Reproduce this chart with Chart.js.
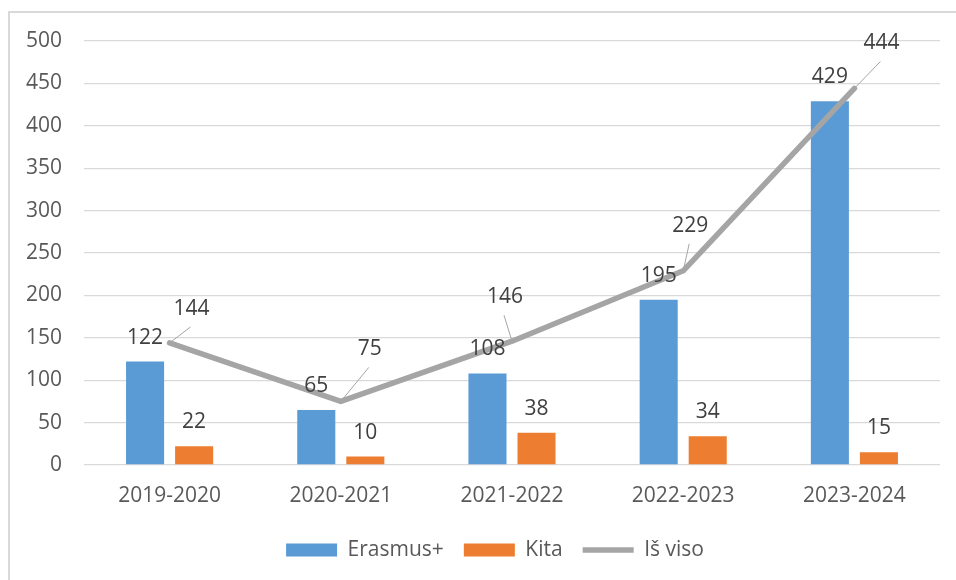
<!DOCTYPE html>
<html>
<head>
<meta charset="utf-8">
<script src="https://cdn.jsdelivr.net/npm/chart.js@4.4.1/dist/chart.umd.min.js"></script>
<style>
  html, body { margin: 0; padding: 0; background: #fff; }
  #wrap { position: relative; width: 956px; height: 580px; overflow: hidden; }
  #frame { position: absolute; left: 8px; top: 11px; width: 1000px; height: 700px;
           border-left: 2px solid #d9d9d9; border-top: 2px solid #d9d9d9; }
  canvas { position: absolute; left: 0; top: 0; }
</style>
</head>
<body>
<div id="wrap">
  <div id="frame"></div>
  <canvas id="chart" width="956" height="580"></canvas>
</div>
<script>
const years = ['2019-2020', '2020-2021', '2021-2022', '2022-2023', '2023-2024'];
const erasmus = [122, 65, 108, 195, 429];
const kita = [22, 10, 38, 34, 15];
const total = [144, 75, 146, 229, 444];

// where the total labels sit relative to their point (px), with a leader line
const totalLabelShift = [[22, -34], [29, -52], [-7, -44], [7, -45], [27, -45]];

const FONT = '"Open Sans", "Noto Sans", sans-serif';

const valueLabels = {
  id: 'valueLabels',
  afterLayout(chart) {
    // the legend in the original sits a bit right of centre
    chart.legend.left += 25;
    chart.legend.right += 25;
  },
  afterDatasetsDraw(chart) {
    const ctx = chart.ctx;
    ctx.save();
    ctx.font = '21px ' + FONT;
    ctx.fillStyle = '#404040';
    ctx.textAlign = 'center';
    ctx.textBaseline = 'middle';
    chart.data.datasets.forEach((ds, i) => {
      const meta = chart.getDatasetMeta(i);
      meta.data.forEach((el, j) => {
        const v = ds.data[j];
        if (ds.type === 'line') {
          const lx = el.x + totalLabelShift[j][0];
          const ly = el.y + totalLabelShift[j][1];
          ctx.strokeStyle = '#a5a5a5';
          ctx.lineWidth = 1;
          ctx.beginPath();
          ctx.moveTo(el.x, el.y);
          ctx.lineTo(lx - 1, ly + 18);
          ctx.stroke();
          ctx.fillText(v, lx, ly);
        } else {
          ctx.fillText(v, el.x, el.y - 24);
        }
      });
    });
    ctx.restore();
  }
};

new Chart(document.getElementById('chart'), {
  type: 'bar',
  data: {
    labels: years,
    datasets: [
      {
        label: 'Erasmus+',
        data: erasmus,
        backgroundColor: '#5b9bd5',
        categoryPercentage: 0.573,
        barPercentage: 0.776,
        order: 1
      },
      {
        label: 'Kita',
        data: kita,
        backgroundColor: '#ed7d31',
        categoryPercentage: 0.573,
        barPercentage: 0.776,
        order: 1
      },
      {
        type: 'line',
        label: 'Iš viso',
        data: total,
        borderColor: '#a5a5a5',
        backgroundColor: '#a5a5a5',
        borderWidth: 5.5,
        borderCapStyle: 'round',
        borderJoinStyle: 'round',
        pointRadius: 0,
        tension: 0,
        order: 0
      }
    ]
  },
  options: {
    responsive: false,
    animation: false,
    devicePixelRatio: 1,
    layout: { padding: { top: 41, right: 16, bottom: 9.5, left: 0 } },
    plugins: {
      tooltip: { enabled: false },
      legend: {
        position: 'bottom',
        labels: {
          color: '#595959',
          font: { family: FONT, size: 21 },
          usePointStyle: true,
          pointStyleWidth: 51,
          boxHeight: 13,
          padding: 20,
          sort: (a, b) => a.datasetIndex - b.datasetIndex,
          generateLabels(chart) {
            const items = Chart.defaults.plugins.legend.labels.generateLabels(chart);
            items.forEach(it => {
              it.pointStyle = chart.data.datasets[it.datasetIndex].type === 'line' ? 'line' : 'rect';
            });
            return items;
          }
        }
      }
    },
    scales: {
      x: {
        grid: { display: false, drawTicks: false },
        border: { display: false },
        ticks: { color: '#595959', font: { family: FONT, size: 21 }, padding: 18, maxRotation: 0 },
        afterFit(s) { s.height = 54.5; }
      },
      y: {
        min: 0,
        max: 500,
        ticks: { stepSize: 50, color: '#595959', font: { family: FONT, size: 21 }, padding: 22 },
        grid: { color: '#d9d9d9', lineWidth: 1.3, drawTicks: false },
        border: { display: false },
        afterFit(s) { s.width = 84; }
      }
    }
  },
  plugins: [valueLabels]
});
</script>
</body>
</html>
